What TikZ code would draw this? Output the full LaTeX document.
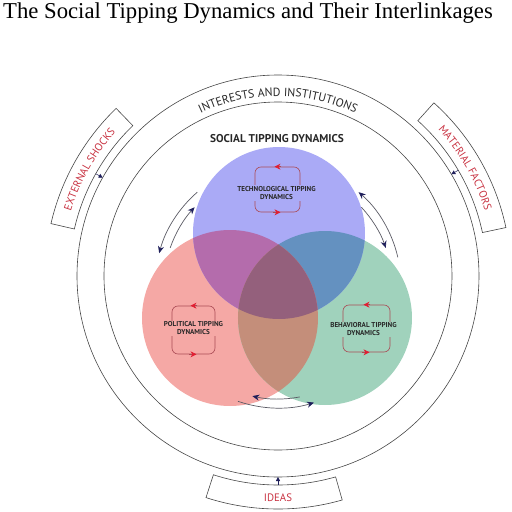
\documentclass[tikz,border=0pt]{standalone}
\usepackage{fontspec}
\setmainfont{Liberation Serif}
\setsansfont{PT Sans}
\usetikzlibrary{arrows.meta,decorations.text}
\definecolor{bluec}{RGB}{170,170,246}
\definecolor{redc}{RGB}{245,168,165}
\definecolor{greenc}{RGB}{160,210,188}
\definecolor{rbc}{RGB}{180,108,172}
\definecolor{bgc}{RGB}{100,145,192}
\definecolor{rgc}{RGB}{196,142,122}
\definecolor{rbgc}{RGB}{148,96,124}
\definecolor{labred}{RGB}{200,50,65}
\definecolor{arrblue}{RGB}{30,30,90}
\definecolor{linegray}{RGB}{70,70,70}
\definecolor{shaftgray}{RGB}{90,90,100}
\definecolor{looplin}{RGB}{170,75,85}
\definecolor{looparr}{RGB}{225,30,50}
\definecolor{txtdark}{RGB}{40,40,40}
\tikzset{
  ringline/.style={draw=linegray, line width=0.6pt},
  boxline/.style={draw=linegray, line width=0.6pt},
  smallarr/.style={draw=arrblue, line width=0.5pt, -{Triangle[length=4pt,width=4pt,color=arrblue]}},
  varr/.style={draw=shaftgray, line width=0.7pt, -{Stealth[length=7pt,width=6pt,color=arrblue]}},
  loopbox/.style={draw=looplin, line width=0.6pt, rounded corners=6pt, inner sep=0pt},
  looptip/.style={draw=looplin, line width=0.6pt, -{Stealth[length=6pt,width=6pt,color=looparr]}},
  looptext/.style={font=\sffamily\bfseries\fontsize{7.1}{8}\selectfont, text=txtdark, align=center, inner sep=1pt},
}
\begin{document}
\begin{tikzpicture}[x=1pt,y=1pt]
\useasboundingbox (-278,-236) rectangle (234,276);
% title
\node[anchor=base west, inner sep=0pt, font=\fontsize{22.7}{24}\selectfont] (title) at (-275,258) {The Social Tipping Dynamics and Their Interlinkages};
% rings
\coordinate (C) at (0,0);
\draw[ringline] (C) circle[radius=201pt];
\draw[ringline] (C) circle[radius=174pt];
% venn
\coordinate (B) at (1,43);
\coordinate (R) at (-48,-42);
\coordinate (G) at (47,-42);
\fill[redc] (R) circle[radius=88pt];
\fill[greenc] (G) circle[radius=87pt];
\fill[bluec] (B) circle[radius=86pt];
\begin{scope}
  \clip (B) circle[radius=86pt];
  \fill[bgc] (G) circle[radius=87pt];
\end{scope}
\begin{scope}
  \clip (R) circle[radius=88pt];
  \fill[rbc] (B) circle[radius=86pt];
  \fill[rgc] (G) circle[radius=87pt];
  \clip (B) circle[radius=86pt];
  \fill[rbgc] (G) circle[radius=87pt];
\end{scope}
% labels
\path[decorate, decoration={text along path, text align=center, text color=txtdark,
  text={|\sffamily\fontsize{11.8}{11.8}\selectfont|INTERESTS AND INSTITUTIONS}}]
  (130:180pt) arc[start angle=130, end angle=50, radius=180pt];
\node[font=\sffamily\bfseries\fontsize{11.3}{11.3}\selectfont, text=txtdark] (std) at (-1,137) {SOCIAL TIPPING DYNAMICS};
% outer boxes
\draw[boxline] (134:209pt) arc[start angle=134, end angle=167, radius=209pt] -- (167:233pt) arc[start angle=167, end angle=134, radius=233pt] -- cycle;
\draw[boxline] (12:209pt) arc[start angle=12, end angle=48, radius=209pt] -- (48:233pt) arc[start angle=48, end angle=12, radius=233pt] -- cycle;
\draw[boxline] (252:209pt) arc[start angle=252, end angle=286, radius=209pt] -- (286:233pt) arc[start angle=286, end angle=252, radius=233pt] -- cycle;
\path[decorate, decoration={text along path, text align=center, text color=labred,
  text={|\sffamily\fontsize{10.8}{10.8}\selectfont|EXTERNAL SHOCKS}}]
  (170:217pt) arc[start angle=170, end angle=131, radius=217pt];
\path[decorate, decoration={text along path, text align=center, text color=labred,
  text={|\sffamily\fontsize{10.8}{10.8}\selectfont|MATERIAL FACTORS}}]
  (50:217pt) arc[start angle=50, end angle=10, radius=217pt];
\node[font=\sffamily\fontsize{10.8}{10.8}\selectfont, text=labred] (ideas) at (0,-222) {IDEAS};
% small arrows from boxes to ring
\coordinate (es1) at (150.7:209pt); \coordinate (es2) at (150.7:201pt);
\coordinate (mf1) at (30.4:209pt); \coordinate (mf2) at (30.4:201pt);
\coordinate (id1) at (270:209pt); \coordinate (id2) at (270:201pt);
\draw[smallarr] (es1) -- (es2);
\draw[smallarr] (mf1) -- (mf2);
\draw[smallarr] (id1) -- (id2);
% venn arrows
\begin{scope}[shift={(0,-9)}]
  \draw[varr] (131:123pt) arc[start angle=131, end angle=165, radius=123pt];
  \draw[varr] (161:114pt) arc[start angle=161, end angle=137, radius=114pt];
  \draw[varr] (13:123pt) arc[start angle=13, end angle=49, radius=123pt];
  \draw[varr] (43:114pt) arc[start angle=43, end angle=19, radius=114pt];
  \draw[varr] (281:114pt) arc[start angle=281, end angle=257, radius=114pt];
  \draw[varr] (251:123pt) arc[start angle=251, end angle=287, radius=123pt];
\end{scope}
% loops
\node[loopbox, minimum width=45pt, minimum height=45pt] (tl) at (-0.5,86.5) {};
\node[loopbox, minimum width=43pt, minimum height=48pt] (pl) at (-84.5,-54) {};
\node[loopbox, minimum width=47pt, minimum height=47pt] (bl) at (88.5,-52.5) {};
\foreach \n in {tl,pl,bl}{
  \draw[looptip] ([xshift=4pt]\n.north) -- ([xshift=-3pt]\n.north);
  \draw[looptip] ([xshift=-4pt]\n.south) -- ([xshift=3pt]\n.south);
}
\node[looptext, fill=bluec] (tt) at (-1.5,83) {TECHNOLOGICAL TIPPING\\DYNAMICS};
\node[looptext, fill=redc] (pt) at (-84.5,-52.5) {POLITICAL TIPPING\\DYNAMICS};
\node[looptext, fill=greenc] (bt) at (85.5,-53.5) {BEHAVIORAL TIPPING\\DYNAMICS};
\end{tikzpicture}
\end{document}
